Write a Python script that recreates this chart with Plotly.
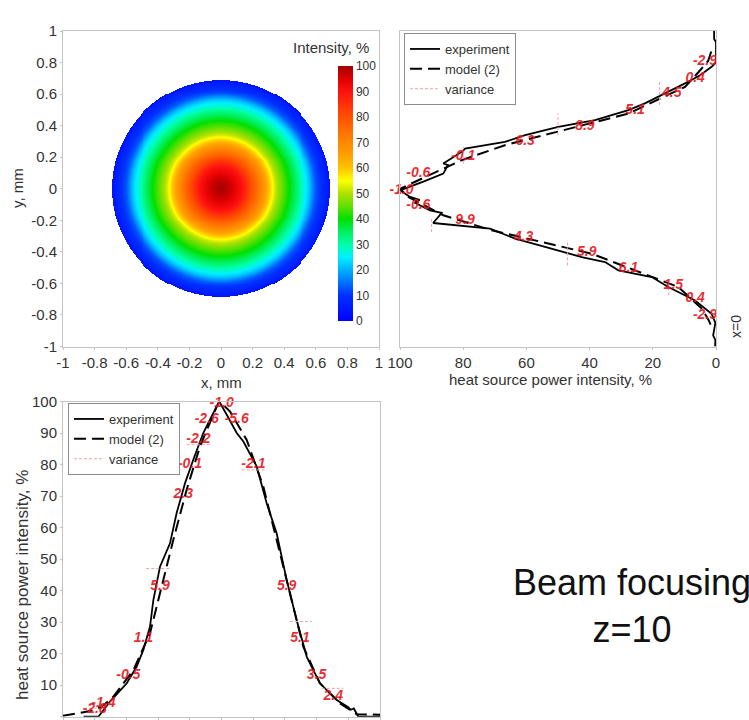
import numpy as np
import plotly.graph_objects as go

W, H = 749, 720
FONT = "Liberation Sans, Arial, sans-serif"

# ---------------- data ----------------
# radial intensity profile of the 2D map
radius_mm = [0, 0.07, 0.137, 0.19, 0.24, 0.28, 0.31, 0.34, 0.38, 0.43, 0.50, 0.56, 0.60, 0.69]
radial_intensity = [100, 96, 90, 81, 73, 66, 59, 52, 46, 40, 31, 22, 13, 4]
beam_radius = 0.69

# top-right panel: intensity (%) vs y (mm)
tr_exp_I = [0.6, 0.6, 0.0, 0.0, 1.4, 5.0, 9.8, 17.2, 22.5, 27.7, 38.3, 49.9, 60.4, 66.8, 79.4, 80.0,
            86.3, 84.8, 86.3, 92.6, 100.0, 96.8, 93.8, 95.2, 93.7, 90.5, 86.8, 89.5, 71.5, 63.6,
            54.1, 42.5, 35.1, 30.9, 20.3, 15.1, 6.6, 1.4, 0.2, 0.6, 0.9, 0.2, 0.3]
tr_exp_y = [1.0, 0.95, 0.93, 0.80, 0.773, 0.72, 0.668, 0.594, 0.541, 0.498, 0.435, 0.392, 0.340, 0.297, 0.255, 0.240,
            0.160, 0.150, 0.096, 0.045, -0.01, -0.052, -0.07, -0.09, -0.105, -0.137, -0.153, -0.217, -0.253, -0.316,
            -0.369, -0.433, -0.465, -0.517, -0.560, -0.623, -0.708, -0.792, -0.85, -0.90, -0.93, -0.96, -1.0]
tr_mod_I = [1.5, 2.5, 5.5, 9.8, 27.7, 49.9, 66.8, 80.5, 98.4, 100.0, 97.4, 86.3, 71.0, 39.3, 11.9, 4.5, 2.4, 1.5]
tr_mod_y = [0.87, 0.81, 0.74, 0.646, 0.477, 0.361, 0.276, 0.181, 0.011, 0.0, -0.052, -0.168, -0.263, -0.412,
            -0.623, -0.76, -0.83, -0.87]
tr_lab_text = ["-2.9", "0.4", "4.5", "5.1", "8.9", "6.3", "-0.1", "-0.6", "-1.0", "-0.6", "9.9", "4.3",
               "5.9", "6.1", "1.5", "0.4", "-2.9"]
tr_lab_I = [3.5, 6.6, 14.0, 25.6, 41.5, 60.4, 80.0, 94.2, 99.5, 94.2, 79.4, 60.9, 40.9, 27.7, 13.5, 6.6, 3.5]
tr_lab_y = [0.805, 0.70, 0.604, 0.498, 0.392, 0.297, 0.202, 0.096, -0.01, -0.105, -0.20, -0.306, -0.401,
            -0.507, -0.613, -0.697, -0.803]
tr_var_I = [17.9, 50.0, 80.0, 100.0, 90.0, 47.0, 15.0]
tr_var_y = [0.604, 0.408, 0.212, 0.0, -0.226, -0.406, -0.634]
tr_var_half = [0.074, 0.068, 0.053, 0.03, 0.048, 0.08, 0.042]

# bottom panel: intensity (%) vs x (mm)
bt_exp_x = [-0.87, -0.777, -0.703, -0.598, -0.535, -0.493, -0.451, -0.430, -0.388, -0.325, -0.283, -0.230,
            -0.178, -0.115, -0.052, -0.014, 0.033, 0.096, 0.138, 0.222, 0.285, 0.348, 0.411, 0.474, 0.538,
            0.621, 0.727, 0.80, 0.815, 0.835, 0.863, 1.0]
bt_exp_I = [0, 0, 4.8, 10.6, 15.9, 21.2, 28.6, 37.0, 47.6, 55.0, 64.6, 74.1, 81.5, 90.0, 96.3, 100, 95.8,
            90.0, 87.3, 79.4, 67.7, 58.2, 43.4, 30.7, 19.0, 10.6, 5.3, 3.0, 2.2, 2.6, 0, 0]
bt_mod_x = [-1.0, -0.9, -0.83, -0.76, -0.683, -0.556, -0.451, -0.367, -0.304, -0.220, -0.136, -0.030, -0.01,
            0.054, 0.159, 0.264, 0.348, 0.432, 0.516, 0.621, 0.748, 0.853, 0.93, 1.0]
bt_mod_I = [0.3, 1.2, 1.8, 3.0, 6.3, 14.8, 26.5, 43.4, 56.1, 72.0, 85.7, 98.4, 100, 96.8, 87.8, 73.0, 56.1,
            39.2, 22.2, 10.6, 4.2, 0.8, 0.8, 0.6]
bt_lab_text = ["-1.0", "-2.6", "-5.6", "-2.2", "-0.1", "-2.1", "2.3", "5.9", "5.9", "1.1", "5.1", "-0.5",
               "3.5", "2.4", "-2.8", "-1.4"]
bt_lab_x = [0.001, -0.093, 0.096, -0.146, -0.199, 0.201, -0.241, -0.388, 0.411, -0.493, 0.495, -0.588,
            0.600, 0.705, -0.80, -0.745]
bt_lab_I = [99.3, 94.4, 94.4, 87.8, 79.9, 79.9, 70.4, 41.3, 41.3, 24.9, 24.9, 13.2, 13.2, 6.3, 2.3, 4.3]
bt_var_x = [-0.82, -0.40, -0.146, 0.0, 0.206, 0.50, 0.70]
bt_var_I = [2.7, 47.0, 86.3, 100.0, 78.3, 30.2, 9.0]
bt_var_half = [0.05, 0.075, 0.074, 0.04, 0.079, 0.068, 0.068]

mm_ticks = [-1, -0.8, -0.6, -0.4, -0.2, 0, 0.2, 0.4, 0.6, 0.8, 1]
mm_ticktext = ["-1", "-0.8", "-0.6", "-0.4", "-0.2", "0", "0.2", "0.4", "0.6", "0.8", "1"]
pct_ticks = [100, 80, 60, 40, 20, 0]
cbar_ticks = [0, 10, 20, 30, 40, 50, 60, 70, 80, 90, 100]
bt_pct_ticks = [0, 10, 20, 30, 40, 50, 60, 70, 80, 90, 100]

jet_scale = [[0.0, "#0000ff"], [0.1, "#0030ff"], [0.15, "#0070ff"], [0.2, "#00b0ff"], [0.25, "#00f0ff"],
             [0.3, "#00ffaa"], [0.35, "#00f060"], [0.4, "#00e000"], [0.45, "#60e000"], [0.5, "#b0e000"],
             [0.55, "#ffff00"], [0.6, "#ffc400"], [0.65, "#ffa000"], [0.7, "#ff8800"], [0.8, "#ff5000"],
             [0.9, "#ff1010"], [0.95, "#e00000"], [1.0, "#a00000"]]

# ---------------- helpers ----------------
def px_x(p):
    return p / W


def px_y(p):
    return 1 - p / H


def segments(centers, const, half, vertical):
    a, b = [], []
    for c, k, h in zip(centers, const, half):
        if vertical:
            a += [k, k, None]
            b += [c - h, c + h, None]
        else:
            a += [c - h, c + h, None]
            b += [k, k, None]
    return a, b


grid = np.linspace(-1, 1, 321)
gx, gy = np.meshgrid(grid, grid)
rr = np.sqrt(gx ** 2 + gy ** 2)
zmap = np.interp(rr, radius_mm, radial_intensity)
zmap = np.where(rr <= beam_radius, np.round(zmap, 1), np.nan)

RED = "rgba(230,22,32,0.92)"
PINK = "#f2a0aa"
AX = "#c4c4c4"
TXT = "#333333"

fig = go.Figure()

fig.add_trace(go.Heatmap(
    x=grid, y=grid, z=zmap, zmin=0, zmax=100, colorscale=jet_scale, hoverinfo="skip",
    xaxis="x", yaxis="y", showscale=True,
    colorbar=dict(x=px_x(338), xanchor="left", xpad=0, y=px_y(193.5), yanchor="middle", ypad=0,
                  len=255, lenmode="pixels", thickness=15, thicknessmode="pixels",
                  tickvals=cbar_ticks, ticks="", outlinewidth=0,
                  tickfont=dict(family=FONT, size=12, color=TXT))))

# top-right panel
vx, vy = segments(tr_var_y, tr_var_I, tr_var_half, vertical=True)
fig.add_trace(go.Scatter(x=tr_exp_I, y=tr_exp_y, mode="lines", name="experiment", legend="legend2",
                         line=dict(color="black", width=1.8), xaxis="x2", yaxis="y2"))
fig.add_trace(go.Scatter(x=tr_mod_I, y=tr_mod_y, mode="lines", name="model (2)", legend="legend2",
                         line=dict(color="black", width=2, dash="12px,6px"), xaxis="x2", yaxis="y2"))
fig.add_trace(go.Scatter(x=vx, y=vy, mode="lines", name="variance", legend="legend2",
                         line=dict(color=PINK, width=1, dash="3px,2px"), xaxis="x2", yaxis="y2"))
fig.add_trace(go.Scatter(x=tr_lab_I, y=tr_lab_y, mode="text", text=tr_lab_text, showlegend=False,
                         textfont=dict(family=FONT, size=14, color=RED, weight="bold", style="italic"),
                         cliponaxis=False, xaxis="x2", yaxis="y2", hoverinfo="skip"))

# bottom panel
bx, by = segments(bt_var_x, bt_var_I, bt_var_half, vertical=False)
fig.add_trace(go.Scatter(x=bt_exp_x, y=bt_exp_I, mode="lines", name="experiment", legend="legend",
                         line=dict(color="black", width=1.8), xaxis="x3", yaxis="y3"))
fig.add_trace(go.Scatter(x=bt_mod_x, y=bt_mod_I, mode="lines", name="model (2)", legend="legend",
                         line=dict(color="black", width=2, dash="12px,6px"), xaxis="x3", yaxis="y3"))
fig.add_trace(go.Scatter(x=bx, y=by, mode="lines", name="variance", legend="legend",
                         line=dict(color=PINK, width=1, dash="3px,2px"), xaxis="x3", yaxis="y3"))
fig.add_trace(go.Scatter(x=bt_lab_x, y=bt_lab_I, mode="text", text=bt_lab_text, showlegend=False,
                         textfont=dict(family=FONT, size=14, color=RED, weight="bold", style="italic"),
                         cliponaxis=False, xaxis="x3", yaxis="y3", hoverinfo="skip"))

axis_common = dict(showgrid=False, zeroline=False, showline=True, linecolor=AX, linewidth=1, mirror=True,
                   automargin=False, ticks="outside", ticklen=2, tickcolor=AX,
                   tickfont=dict(family=FONT, size=15, color=TXT))

legend_common = dict(bordercolor="#8c8c8c", borderwidth=1, bgcolor="white",
                     font=dict(family=FONT, size=13, color=TXT), xanchor="left", yanchor="top",
                     tracegroupgap=0, itemwidth=30)

fig.update_layout(
    template="none",
    width=W, height=H, margin=dict(l=0, r=0, t=0, b=0, pad=0), autosize=False,
    paper_bgcolor="white", plot_bgcolor="white",
    font=dict(family=FONT, color=TXT),
    xaxis=dict(domain=[px_x(63), px_x(379)], range=[-1, 1], anchor="y",
               tickvals=mm_ticks, ticktext=mm_ticktext, **axis_common),
    yaxis=dict(domain=[px_y(346.5), px_y(31)], range=[-1, 1], anchor="x",
               tickvals=mm_ticks, ticktext=mm_ticktext, **axis_common),
    xaxis2=dict(domain=[px_x(400), px_x(716)], range=[100, 0], anchor="y2",
                tickvals=pct_ticks, **axis_common),
    yaxis2=dict(domain=[px_y(346.5), px_y(31)], range=[-1, 1], anchor="x2",
                showgrid=False, zeroline=False, showline=True, linecolor=AX, mirror=True,
                automargin=False, ticks="", showticklabels=False),
    xaxis3=dict(domain=[px_x(63), px_x(380)], range=[-1, 1], anchor="y3",
                tickvals=mm_ticks, showticklabels=False, **axis_common),
    yaxis3=dict(domain=[px_y(716.7), px_y(401.5)], range=[0, 100], anchor="x3",
                tickvals=bt_pct_ticks, **axis_common),
    legend=dict(x=px_x(68), y=px_y(403), **legend_common),
    legend2=dict(x=px_x(404), y=px_y(33), **legend_common),
    showlegend=True,
)

ann = [
    dict(text="Intensity, %", x=px_x(371), y=px_y(48), xanchor="right", yanchor="middle",
         font=dict(size=15)),
    dict(text="y, mm", x=px_x(18), y=px_y(188), textangle=-90, xanchor="center", yanchor="middle",
         font=dict(size=15)),
    dict(text="x, mm", x=px_x(221), y=px_y(382), xanchor="center", yanchor="middle", font=dict(size=15)),
    dict(text="heat source power intensity, %", x=px_x(550), y=px_y(379), xanchor="center",
         yanchor="middle", font=dict(size=15)),
    dict(text="x=0", x=px_x(736), y=px_y(327), textangle=-90, xanchor="center", yanchor="middle",
         font=dict(size=14)),
    dict(text="heat source power intensity, %", x=px_x(22), y=px_y(585), textangle=-90,
         xanchor="center", yanchor="middle", font=dict(size=17)),
    dict(text="Beam focusing<br>z=10", x=px_x(632), y=px_y(606), xanchor="center", yanchor="middle",
         align="center", font=dict(size=36, color="#111111")),
]
for a in ann:
    a.update(xref="paper", yref="paper", showarrow=False)
    a["font"] = dict(family=FONT, color=a["font"].get("color", TXT), size=a["font"]["size"])
fig.update_layout(annotations=ann)

fig.write_html("out.html", config={"displayModeBar": False},
               post_script="document.body.style.margin='0';document.body.style.overflow='hidden';")
